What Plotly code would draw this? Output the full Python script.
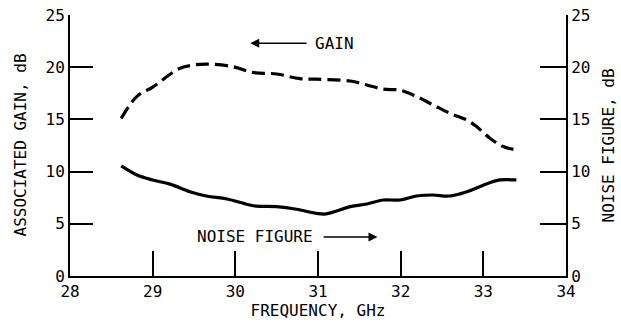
import plotly.graph_objects as go

# Data
gain_freq = [28.62, 28.81, 29.0, 29.33, 29.49, 29.66, 29.97, 30.21, 30.5, 30.78, 30.98,
             31.39, 31.59, 31.79, 31.99, 32.19, 32.39, 32.59, 32.8, 32.92, 33.08, 33.24, 33.4]
gain_db = [15.1, 17.2, 18.1, 19.9, 20.2, 20.3, 20.05, 19.5, 19.35, 18.9, 18.85,
           18.68, 18.3, 17.9, 17.8, 17.2, 16.4, 15.6, 14.95, 14.3, 13.2, 12.4, 12.07]

nf_freq = [28.62, 28.81, 29.0, 29.21, 29.45, 29.65, 29.9, 30.22, 30.5, 30.74, 30.98,
           31.1, 31.39, 31.59, 31.79, 31.99, 32.19, 32.39, 32.59, 32.8, 33.0, 33.2, 33.4]
nf_db = [10.54, 9.67, 9.2, 8.8, 8.07, 7.66, 7.38, 6.73, 6.64, 6.39, 6.0,
         5.95, 6.64, 6.9, 7.28, 7.28, 7.66, 7.76, 7.66, 8.07, 8.7, 9.2, 9.2]

x_ticks = [28, 29, 30, 31, 32, 33, 34]
y_ticks = [0, 5, 10, 15, 20, 25]

FONT = "DejaVu Sans Mono"

fig = go.Figure()
fig.add_trace(go.Scatter(x=gain_freq, y=gain_db, mode="lines", line_shape="spline",
                         line=dict(color="black", width=3.2, dash="13px,6px"),
                         showlegend=False, yaxis="y"))
fig.add_trace(go.Scatter(x=nf_freq, y=nf_db, mode="lines", line_shape="spline",
                         line=dict(color="black", width=3.2),
                         showlegend=False, yaxis="y2"))

axis_common = dict(showgrid=False, zeroline=False, showline=True, linecolor="black",
                   linewidth=2, ticks="inside", tickcolor="black", tickwidth=2,
                   automargin=False, ticklabeloverflow="allow",
                   tickfont=dict(family=FONT, size=16, color="black"))

fig.update_layout(
    width=621, height=324,
    margin=dict(l=70, r=55, t=15, b=48),
    paper_bgcolor="white", plot_bgcolor="white",
    hovermode=False,
    font=dict(family=FONT, size=16, color="black"),
    xaxis=dict(range=[28, 34], tickvals=x_ticks, ticklen=25,
               title=dict(text="FREQUENCY, GHz", standoff=4,
                          font=dict(family=FONT, size=16)), **axis_common),
    yaxis=dict(range=[0, 25], tickvals=y_ticks, ticklen=23, **axis_common),
    yaxis2=dict(range=[0, 25], tickvals=y_ticks, ticklen=26, overlaying="y", side="right",
                **axis_common),
)

# Axis titles for the two y axes
fig.add_annotation(x=0, y=0.5, xref="paper", yref="paper", xshift=-50,
                   xanchor="center", yanchor="middle",
                   text="ASSOCIATED GAIN, dB", textangle=-90, showarrow=False,
                   font=dict(family=FONT, size=16, color="black"))
fig.add_annotation(x=1, y=0.5, xref="paper", yref="paper", xshift=42,
                   xanchor="center", yanchor="middle",
                   text="NOISE FIGURE, dB", textangle=-90, showarrow=False,
                   font=dict(family=FONT, size=16, color="black"))

# Annotation labels and arrows
fig.add_annotation(x=31.2, y=22.3, text="GAIN", showarrow=False, xref="x", yref="y",
                   font=dict(family=FONT, size=16, color="black"))
fig.add_annotation(x=30.18, y=22.3, ax=30.88, ay=22.3, axref="x", ayref="y",
                   xref="x", yref="y", text="", showarrow=True, arrowhead=2,
                   arrowsize=1.2, arrowwidth=1.5, arrowcolor="black")
fig.add_annotation(x=30.24, y=3.74, text="NOISE FIGURE", showarrow=False, xref="x", yref="y",
                   font=dict(family=FONT, size=16, color="black"))
fig.add_annotation(x=31.72, y=3.74, ax=31.05, ay=3.74, axref="x", ayref="y",
                   xref="x", yref="y", text="", showarrow=True, arrowhead=2,
                   arrowsize=1.2, arrowwidth=1.5, arrowcolor="black")

# remove the default 8px page margin so the figure fills the window exactly
fig.write_html("out.html", config={"displayModeBar": False},
               post_script="document.body.style.margin='0';")
